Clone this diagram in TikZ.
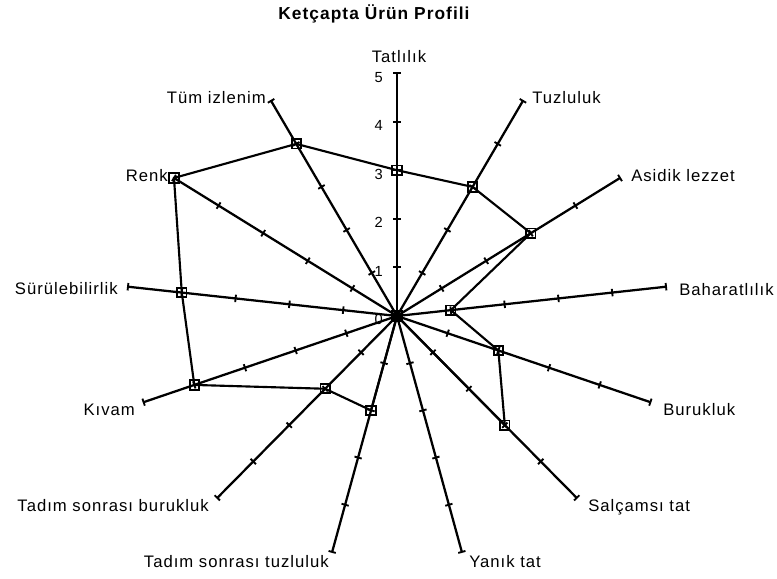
\documentclass[tikz,border=0pt]{standalone}
\usepackage{fontspec}
\setmainfont{Liberation Sans}
\newfontfamily\lblfont[LetterSpace=6]{Liberation Sans}
\usepackage{tikz}
\usetikzlibrary{calc}

\tikzset{
  axis line/.style={line width=1.7pt},
  tick mark/.style={line width=1.4pt},
  data line/.style={line width=1.6pt},
  marker/.style={draw, line width=1.4pt, minimum size=7pt, inner sep=0pt},
  axis label/.style={font=\lblfont\fontsize{12.5}{14}\selectfont, inner sep=0pt},
  scale num/.style={font=\fontsize{11}{12}\selectfont, anchor=base east, inner sep=0pt},
  chart title/.style={font=\lblfont\bfseries\fontsize{13}{15}\selectfont, anchor=base, inner sep=0pt}
}

\begin{document}
\begin{tikzpicture}[x=0.75pt,y=-0.75pt]
  \useasboundingbox (0,0) rectangle (777,578);
  \coordinate (c) at (397,316);
  % Axes and their ticks
  \foreach \i in {0,...,12} {
    \coordinate (e\i) at ($(c)+({271*cos(90-\i*360/13)},{-243*sin(90-\i*360/13)})$);
    \draw[axis line] (c) -- (e\i);
    \foreach \v in {1,...,5} {
      \coordinate (t) at ($(c)!\v/5!(e\i)$);
      \draw[tick mark] ($(t)!2.8pt!90:(c)$) -- ($(t)!2.8pt!-90:(c)$);
    }
  }
  % Scale numbers
  \foreach \v in {0,...,5}
    \node[scale num] (n\v) at (383,{324.5-48.5*\v}) {\v};
  % Profile
  \foreach \v [count=\i from 0] in {3,3,3,1,2,3,0,2,2,4,4,5,4}
    \coordinate (d\i) at ($(c)!\v/5!(e\i)$);
  \draw[data line] (d0) -- (d1) -- (d2) -- (d3) -- (d4) -- (d5) -- (d6)
    -- (d7) -- (d8) -- (d9) -- (d10) -- (d11) -- (d12) -- cycle;
  \foreach \i in {0,...,12}
    \node[marker] (m\i) at (d\i) {};
  % Axis labels
  \node[axis label, anchor=base] (tatlilik) at (399,62) {Tatlılık};
  \node[axis label, anchor=base west] (tuzluluk) at (532,103) {Tuzluluk};
  \node[axis label, anchor=base west] (asidik) at (631,181) {Asidik lezzet};
  \node[axis label, anchor=base west] (baharat) at (679,295) {Baharatlılık};
  \node[axis label, anchor=base west] (burukluk) at (663,415) {Burukluk};
  \node[axis label, anchor=base west] (salca) at (588,511) {Salçamsı tat};
  \node[axis label, anchor=base west] (yanik) at (469,567) {Yanık tat};
  \node[axis label, anchor=base east] (stuz) at (329,567) {Tadım sonrası tuzluluk};
  \node[axis label, anchor=base east] (sburuk) at (209,511) {Tadım sonrası burukluk};
  \node[axis label, anchor=base east] (kivam) at (135,415) {Kıvam};
  \node[axis label, anchor=base east] (surul) at (118,294) {Sürülebilirlik};
  \node[axis label, anchor=base east] (renk) at (168,181) {Renk};
  \node[axis label, anchor=base east] (tum) at (266,103) {Tüm izlenim};
  % Title
  \node[chart title] (title) at (374,19) {Ketçapta Ürün Profili};
\end{tikzpicture}
\end{document}
